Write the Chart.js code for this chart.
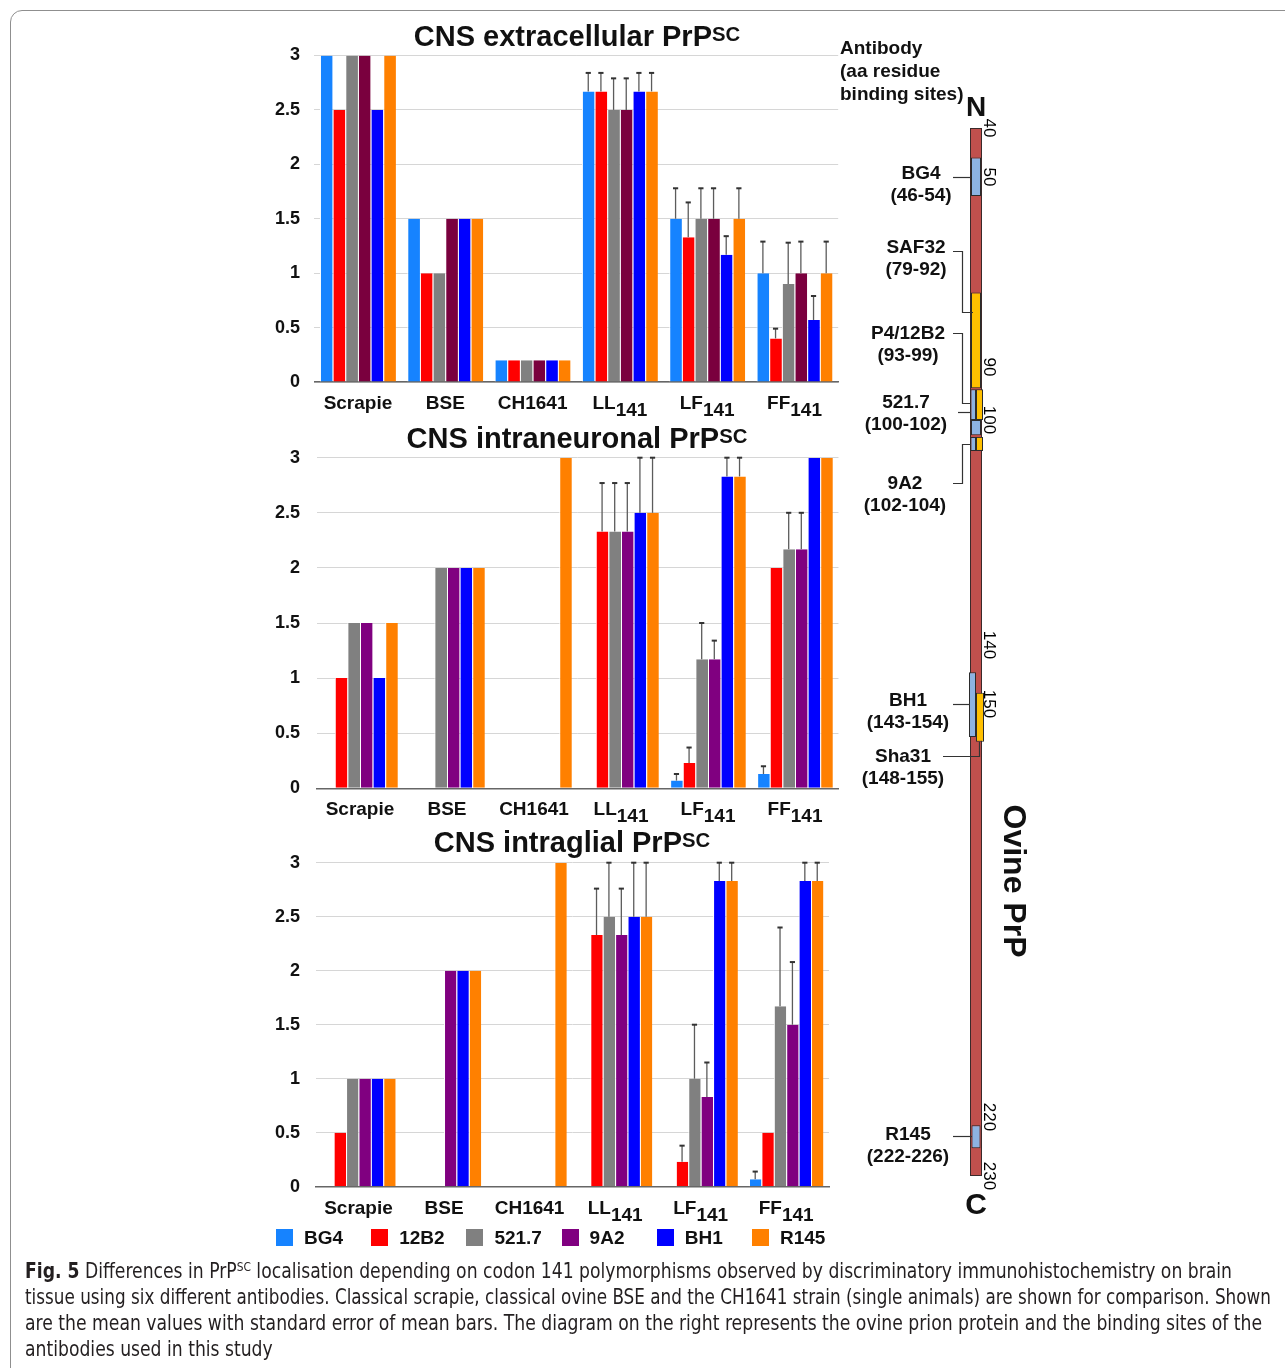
<!DOCTYPE html>
<html>
<head>
<meta charset="utf-8">
<title>Fig. 5 – PrPSC localisation</title>
<script src="https://cdn.jsdelivr.net/npm/chart.js@4.4.1/dist/chart.umd.min.js"></script>
<style>
  html, body { margin:0; padding:0; background:#fff; }
  #page { position:relative; width:1285px; height:1368px; overflow:hidden; background:#fff;
          font-family:"Liberation Sans", Arial, Helvetica, sans-serif; color:#111; }
  #card { position:absolute; left:10px; top:10px; width:1320px; height:1420px;
          border:1px solid #8f8f8f; border-radius:12px; box-sizing:border-box; }
  canvas { position:absolute; }
  .t { position:absolute; white-space:nowrap; }
  .sup { position:relative; top:-0.25em; font-size:0.7em; }
  .cap { font-family:"Liberation Sans Narrow","DejaVu Sans Condensed","Roboto Condensed","Liberation Sans",sans-serif;
         color:#231f20; transform-origin:0 0; }
  .capsup { position:relative; top:-0.55em; font-size:0.62em; }
  #links { position:absolute; left:0; top:0; }
  .sw { position:absolute; width:17px; height:17px; }
</style>
</head>
<body>
<div id="page">
  <div id="card"></div>
  <canvas id="c1" width="610" height="400" style="left:240px;top:30px;width:610px;height:400px"></canvas>
  <canvas id="c2" width="610" height="400" style="left:240px;top:432px;width:610px;height:400px"></canvas>
  <canvas id="c3" width="610" height="400" style="left:240px;top:836px;width:610px;height:400px"></canvas>
  <canvas id="prp" width="80" height="1120" style="left:930px;top:90px;width:80px;height:1120px"></canvas>
  <svg id="links" width="1285" height="1368">
    <g fill="none" stroke="#333" stroke-width="1.2">
      <path d="M953 177.5 H971"/>
      <path d="M953 251.5 H962.5 V312.5 H973"/>
      <path d="M953 333.5 H962.5 V403.5 H971"/>
      <path d="M958 412.5 H971"/>
      <path d="M953 483.5 H962.5 V444.5 H971"/>
      <path d="M953 704.5 H970"/>
      <path d="M943 756.5 H979.5 V742"/>
      <path d="M953 1136.5 H972"/>
    </g>
  </svg>
</div>
<script>
// ---------------- DATA ----------------
const categoryNames = ['Scrapie', 'BSE', 'CH1641', 'LL', 'LF', 'FF'];
const categorySubs  = ['', '', '', '141', '141', '141'];
const antibodies    = ['BG4', '12B2', '521.7', '9A2', 'BH1', 'R145'];

// CNS extracellular PrPSC: mean score, one row per antibody, columns = categories
const extracellularMean = [
  [3.0, 1.5, 0.2, 2.67, 1.5,  1.0 ],   // BG4
  [2.5, 1.0, 0.2, 2.67, 1.33, 0.4 ],   // 12B2
  [3.0, 1.0, 0.2, 2.5,  1.5,  0.9 ],   // 521.7
  [3.0, 1.5, 0.2, 2.5,  1.5,  1.0 ],   // 9A2
  [2.5, 1.5, 0.2, 2.67, 1.17, 0.57],   // BH1
  [3.0, 1.5, 0.2, 2.67, 1.5,  1.0 ]    // R145
];
const extracellularSEM = [
  [0, 0, 0, 0.17, 0.28, 0.29],
  [0, 0, 0, 0.17, 0.32, 0.09],
  [0, 0, 0, 0.29, 0.28, 0.38],
  [0, 0, 0, 0.29, 0.28, 0.29],
  [0, 0, 0, 0.17, 0.17, 0.22],
  [0, 0, 0, 0.17, 0.28, 0.29]
];

// CNS intraneuronal PrPSC
const intraneuronalMean = [
  [0,   0, 0, 0,    0.07, 0.13],
  [1.0, 0, 0, 2.33, 0.23, 2.0 ],
  [1.5, 2, 0, 2.33, 1.17, 2.17],
  [1.5, 2, 0, 2.33, 1.17, 2.17],
  [1.0, 2, 0, 2.5,  2.83, 3.0 ],
  [1.5, 2, 3, 2.5,  2.83, 3.0 ]
];
const intraneuronalSEM = [
  [0, 0, 0, 0,    0.06, 0.07],
  [0, 0, 0, 0.44, 0.14, 0   ],
  [0, 0, 0, 0.44, 0.33, 0.33],
  [0, 0, 0, 0.44, 0.17, 0.33],
  [0, 0, 0, 0.5,  0.17, 0   ],
  [0, 0, 0, 0.5,  0.17, 0   ]
];

// CNS intraglial PrPSC
const intraglialMean = [
  [0,   0, 0, 0,    0,    0.07],
  [0.5, 0, 0, 2.33, 0.23, 0.5 ],
  [1.0, 0, 0, 2.5,  1.0,  1.67],
  [1.0, 2, 0, 2.33, 0.83, 1.5 ],
  [1.0, 2, 0, 2.5,  2.83, 2.83],
  [1.0, 2, 3, 2.5,  2.83, 2.83]
];
const intraglialSEM = [
  [0, 0, 0, 0,    0,    0.07],
  [0, 0, 0, 0.43, 0.15, 0   ],
  [0, 0, 0, 0.5,  0.5,  0.73],
  [0, 0, 0, 0.43, 0.32, 0.58],
  [0, 0, 0, 0.5,  0.17, 0.17],
  [0, 0, 0, 0.5,  0.17, 0.17]
];

// Ovine PrP diagram (residue numbers)
const proteinSpan   = [40, 230];
const residueTicks  = [40, 50, 90, 100, 140, 150, 220, 230];
const bindingStart  = [46, 74.3, 94.2, 94.2, 100, 103, 103, 144.6, 148.1, 221.4];
const bindingEnd    = [54, 94.0, 100,  100,  102.7, 105.5, 105.5, 155.6, 156.4, 225.3];

// ---------------- STYLE ----------------
const colorsExtra = ['#1683ff', '#ff0000', '#808080', '#7a003e', '#0000ff', '#ff8000'];
const colorsIntra = ['#1683ff', '#ff0000', '#808080', '#800080', '#0000ff', '#ff8000'];
// schematic (non-uniform) spacing of the residue axis, as drawn
const residueAxisStops = [0, 0.04676, 0.22805, 0.27863, 0.49332, 0.54962, 0.94370, 1];
const BOX_BLUE = '#8db3e2', BOX_YELLOW = '#ffc000', PRP_RED = '#c0504d';
const boxStyle = [
  {fill: BOX_BLUE,   lane: 'full', w: 10},
  {fill: BOX_YELLOW, lane: 'full', w: 10},
  {fill: BOX_BLUE,   lane: 'L',    w: 5.5},
  {fill: BOX_YELLOW, lane: 'R',    w: 7},
  {fill: BOX_BLUE,   lane: 'full', w: 10},
  {fill: BOX_BLUE,   lane: 'L',    w: 5.5},
  {fill: BOX_YELLOW, lane: 'R',    w: 7},
  {fill: BOX_BLUE,   lane: 'L',    w: 7},
  {fill: BOX_YELLOW, lane: 'R',    w: 8},
  {fill: BOX_BLUE,   lane: 'full', w: 9}
];

const FONT = '"Liberation Sans", Arial, Helvetica, sans-serif';
Chart.defaults.font.family = FONT;
Chart.defaults.color = '#111';

// ---------------- PLUGINS ----------------
function errorBars(sem) {
  return {
    id: 'errorBars',
    afterDatasetsDraw(chart) {
      const {ctx, scales: {y}} = chart;
      ctx.save();
      chart.data.datasets.forEach((ds, i) => {
        chart.getDatasetMeta(i).data.forEach((bar, j) => {
          const e = sem[i][j];
          if (!e) return;
          const v = ds.data[j];
          const x = bar.x;
          const y0 = y.getPixelForValue(v), y1 = y.getPixelForValue(v + e);
          ctx.strokeStyle = '#5c5c5c'; ctx.lineWidth = 1.3;
          ctx.beginPath(); ctx.moveTo(x, y0); ctx.lineTo(x, y1); ctx.stroke();
          ctx.strokeStyle = '#333'; ctx.lineWidth = 2;
          ctx.beginPath(); ctx.moveTo(x - 2.6, y1); ctx.lineTo(x + 2.6, y1); ctx.stroke();
        });
      });
      ctx.restore();
    }
  };
}

const categoryLabels = {
  id: 'categoryLabels',
  afterDraw(chart) {
    const {ctx, chartArea, scales: {x}} = chart;
    ctx.save();
    ctx.fillStyle = '#111';
    ctx.font = 'bold 19px ' + FONT;
    ctx.textAlign = 'left';
    ctx.textBaseline = 'alphabetic';
    const base = chartArea.bottom + 27;
    categoryNames.forEach((name, i) => {
      const cx = x.getPixelForTick(i);
      const sub = categorySubs[i];
      const w1 = ctx.measureText(name).width;
      const w2 = sub ? ctx.measureText(sub).width : 0;
      const start = cx - (w1 + w2) / 2;
      ctx.fillText(name, start, base);
      if (sub) ctx.fillText(sub, start + w1, base + 7);
    });
    ctx.restore();
  }
};

function barChart(id, means, sem, colors, g) {
  return new Chart(document.getElementById(id), {
    type: 'bar',
    data: {
      labels: categoryNames.map((n, i) => n + categorySubs[i]),
      datasets: antibodies.map((ab, i) => ({
        label: ab,
        data: means[i],
        backgroundColor: colors[i],
        borderColor: '#ffffff',
        borderWidth: {left: 1, right: 0, top: 0, bottom: 0},
        borderSkipped: false,
        inflateAmount: 0,
        categoryPercentage: 0.87,
        barPercentage: 1.0
      }))
    },
    options: {
      responsive: false, animation: false, events: [], devicePixelRatio: 1,
      layout: {padding: {left: 0, right: g.padR, top: g.padT, bottom: 0}},
      plugins: {legend: {display: false}, tooltip: {enabled: false}, title: {display: false}},
      scales: {
        x: {
          grid: {display: false},
          ticks: {display: false},
          border: {display: true, color: '#666', width: 1.6},
          afterFit(s) { s.height = g.xH; s.paddingLeft = 0; s.paddingRight = 0; }
        },
        y: {
          min: 0, max: 3,
          ticks: {stepSize: 0.5, padding: g.tickPad, color: '#111', font: {size: 18, weight: 'bold'},
                  callback: v => String(Math.round(v * 10) / 10)},
          grid: {color: '#d6d6d6', lineWidth: 1, drawTicks: false},
          border: {display: false},
          afterFit(s) { s.width = g.yW; s.paddingTop = 0; s.paddingBottom = 0; }
        }
      }
    },
    plugins: [errorBars(sem), categoryLabels]
  });
}

barChart('c1', extracellularMean, extracellularSEM, colorsExtra, {yW: 74.3, padR: 11.8, padT: 25.5, xH: 48,   tickPad: 14.3});
barChart('c2', intraneuronalMean, intraneuronalSEM, colorsIntra, {yW: 76.5, padR: 11.5, padT: 25.7, xH: 43.7, tickPad: 16.5});
barChart('c3', intraglialMean,    intraglialSEM,    colorsIntra, {yW: 75.7, padR: 21,   padT: 26.7, xH: 49.3, tickPad: 15.7});

// ---------------- PrP diagram ----------------
class ResidueScale extends Chart.LinearScale {
  static id = 'residue';
  static defaults = Chart.LinearScale.defaults;
  getPixelForValue(v) {
    if (v === null || v === undefined || isNaN(v)) return NaN;
    const T = residueTicks, F = residueAxisStops;
    let i = 0;
    while (i < T.length - 2 && v > T[i + 1]) i++;
    const f = F[i] + (v - T[i]) / (T[i + 1] - T[i]) * (F[i + 1] - F[i]);
    return this.top + f * (this.bottom - this.top);
  }
  getValueForPixel(p) {
    const T = residueTicks, F = residueAxisStops;
    const f = (p - this.top) / (this.bottom - this.top);
    let i = 0;
    while (i < F.length - 2 && f > F[i + 1]) i++;
    return T[i] + (f - F[i]) / (F[i + 1] - F[i]) * (T[i + 1] - T[i]);
  }
}
Chart.register(ResidueScale);

const residueTickLabels = {
  id: 'residueTickLabels',
  afterDraw(chart) {
    const {ctx, chartArea, scales: {y}} = chart;
    ctx.save();
    ctx.fillStyle = '#000';
    ctx.font = '17px ' + FONT;
    ctx.textAlign = 'center';
    ctx.textBaseline = 'middle';
    residueTicks.forEach(t => {
      ctx.save();
      ctx.translate(chartArea.left + 43, y.getPixelForValue(t));
      ctx.rotate(Math.PI / 2);
      ctx.fillText(String(t), 0, 0);
      ctx.restore();
    });
    ctx.restore();
  }
};

const siteDatasets = bindingStart.map((s, k) => {
  const st = boxStyle[k];
  const ds = {
    label: 'site' + k,
    data: [[s, bindingEnd[k]]],
    backgroundColor: st.fill,
    borderColor: '#2b2b2b',
    borderWidth: 1,
    borderSkipped: false,
    inflateAmount: 0,
    barThickness: st.w,
    order: 0
  };
  if (st.lane === 'full') ds.grouped = false;
  else { ds.grouped = true; ds.stack = st.lane; }
  return ds;
});
const backboneDataset = {
  label: 'Ovine PrP',
  data: [[proteinSpan[0], proteinSpan[1]]],
  backgroundColor: PRP_RED,
  borderColor: '#3a2a2a',
  borderWidth: 1,
  borderSkipped: false,
  inflateAmount: 0,
  barThickness: 12,
  grouped: false,
  order: 1
};

new Chart(document.getElementById('prp'), {
  type: 'bar',
  data: {labels: ['Ovine PrP'], datasets: [...siteDatasets, backboneDataset]},
  options: {
    responsive: false, animation: false, events: [], devicePixelRatio: 1,
    layout: {padding: {left: 16, right: 4, top: 38, bottom: 34}},
    plugins: {legend: {display: false}, tooltip: {enabled: false}},
    scales: {
      x: {display: false, stacked: true},
      y: {type: 'residue', display: false, min: proteinSpan[0], max: proteinSpan[1], stacked: false}
    }
  },
  plugins: [residueTickLabels]
});

// ---------------- TEXT ----------------
const page = document.getElementById('page');
function place(html, x, baseline, size, align, weight, cls) {
  const d = document.createElement('div');
  d.className = 't' + (cls ? ' ' + cls : '');
  d.innerHTML = html;
  d.style.fontSize = size + 'px';
  d.style.lineHeight = size + 'px';
  d.style.fontWeight = weight || 'bold';
  d.style.top = (baseline - 0.8465 * size) + 'px';
  if (align === 'center') { d.style.left = (x - 300) + 'px'; d.style.width = '600px'; d.style.textAlign = 'center'; }
  else d.style.left = x + 'px';
  page.appendChild(d);
  return d;
}

// chart titles
place('CNS extracellular PrP<span class="sup">SC</span>', 577, 47, 29, 'center');
place('CNS intraneuronal PrP<span class="sup">SC</span>', 577, 449, 29, 'center');
place('CNS intraglial PrP<span class="sup">SC</span>', 572, 853, 29, 'center');

// legend
antibodies.forEach((ab, i) => {
  const x = 276 + i * 95.2;
  const sw = document.createElement('div');
  sw.className = 'sw';
  sw.style.left = x + 'px'; sw.style.top = '1229px';
  sw.style.background = colorsIntra[i];
  page.appendChild(sw);
  place(ab, x + 28, 1244, 19, 'left', 'bold');
});

// diagram annotations
place('Antibody', 840, 54, 19, 'left');
place('(aa residue', 840, 77, 19, 'left');
place('binding sites)', 840, 100, 19, 'left');
const siteLabels = [
  ['BG4', '(46-54)', 921, 179],
  ['SAF32', '(79-92)', 916, 253],
  ['P4/12B2', '(93-99)', 908, 339],
  ['521.7', '(100-102)', 906, 408],
  ['9A2', '(102-104)', 905, 489],
  ['BH1', '(143-154)', 908, 706],
  ['Sha31', '(148-155)', 903, 762],
  ['R145', '(222-226)', 908, 1140]
];
siteLabels.forEach(([a, b, x, y]) => {
  place(a, x, y, 19, 'center');
  place(b, x, y + 22.5, 19, 'center');
});
place('N', 976, 117, 28, 'center');
place('C', 976, 1214, 30, 'center');
const ov = document.createElement('div');
ov.className = 't';
ov.textContent = 'Ovine PrP';
Object.assign(ov.style, {left: '1015px', top: '881px', fontSize: '32px', lineHeight: '32px', fontWeight: 'bold',
  transform: 'translate(-50%, -50%) rotate(90deg)'});
page.appendChild(ov);

// caption
const captionLines = [
  '<b>Fig. 5</b> Differences in PrP<span class="capsup">SC</span> localisation depending on codon 141 polymorphisms observed by discriminatory immunohistochemistry on brain',
  'tissue using six different antibodies. Classical scrapie, classical ovine BSE and the CH1641 strain (single animals) are shown for comparison. Shown',
  'are the mean values with standard error of mean bars. The diagram on the right represents the ovine prion protein and the binding sites of the',
  'antibodies used in this study'
];
const capRight = [1232, 1271, 1262, null];
const capBase = [1279, 1305, 1331, 1357];
let kFirst = 1;
captionLines.forEach((h, i) => {
  const d = place(h, 25, capBase[i], 21, 'left', 'normal', 'cap');
  const w = d.getBoundingClientRect().width;
  let k = capRight[i] ? (capRight[i] - 25) / w : kFirst;
  if (i === 0) kFirst = k;
  d.style.transform = 'scaleX(' + k + ')';
});
</script>
</body>
</html>
